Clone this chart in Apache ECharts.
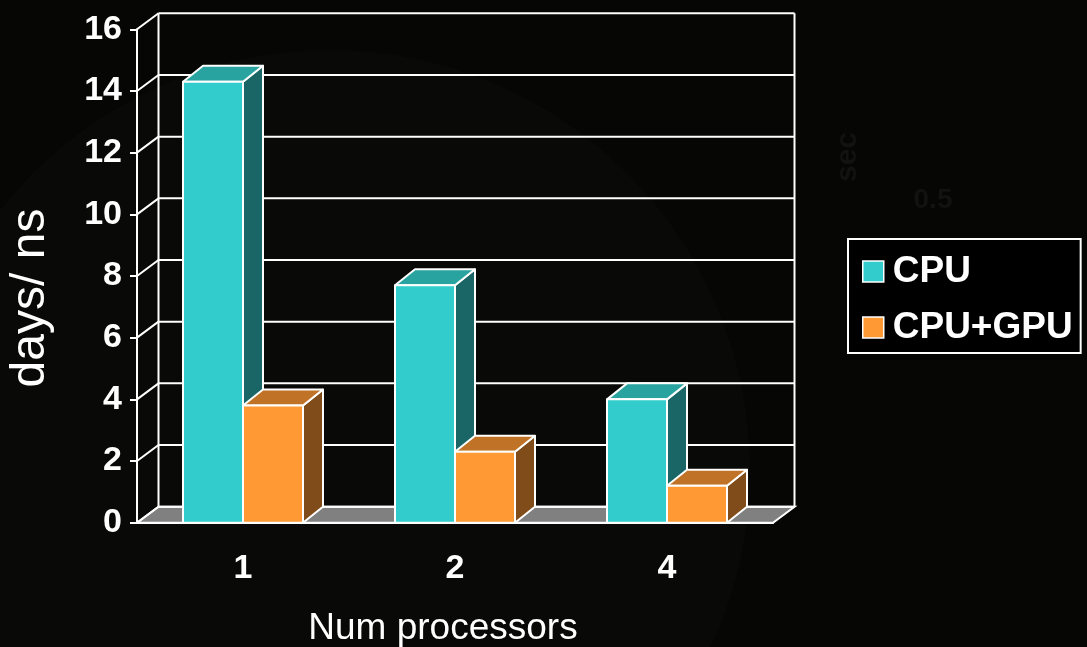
<!DOCTYPE html>
<html>
<head>
<meta charset="utf-8">
<script src="https://cdn.jsdelivr.net/npm/echarts@6/dist/echarts.min.js"></script>
<style>
  html, body { margin: 0; padding: 0; background: #060605; }
  #chart { width: 1087px; height: 647px; }
</style>
</head>
<body>
<div id="chart"></div>
<script>
var categories = ['1', '2', '4'];
var cpuValues = [14.3, 7.7, 4.0];
var gpuValues = [3.8, 2.3, 1.2];
var yTicks = [0, 2, 4, 6, 8, 10, 12, 14, 16];

var FONT = '"Liberation Sans", Arial, sans-serif';
var LINE = '#ffffff';
// depth of the back wall and of the bars, in pixels
var DX = 21.5, DY = -16;
var BAR_DX = 20, BAR_DY = -16;

function renderFrame(params, api) {
    var rect = params.coordSys;
    var v = api.value(1);
    var y = api.coord([0, v])[1];
    var x0 = rect.x, x1 = rect.x + rect.width;
    var st = { stroke: LINE, lineWidth: 2 };
    var children = [];
    if (v === 0) {
        // floor
        children.push({
            type: 'polygon',
            shape: { points: [[x0, y], [x1, y], [x1 + DX, y + DY], [x0 + DX, y + DY]] },
            style: { fill: '#808080', stroke: LINE, lineWidth: 2 }
        });
        // back wall edges
        children.push({ type: 'line', shape: { x1: x0 + DX, y1: y + DY, x2: x0 + DX, y2: rect.y + DY }, style: st });
        children.push({ type: 'line', shape: { x1: x1 + DX, y1: y + DY, x2: x1 + DX, y2: rect.y + DY }, style: st });
    }
    children.push({ type: 'line', shape: { x1: x0, y1: y, x2: x0 + DX, y2: y + DY }, style: st });
    children.push({ type: 'line', shape: { x1: x0 + DX, y1: y + DY, x2: x1 + DX, y2: y + DY }, style: st });
    return { type: 'group', children: children };
}

function barRender(slot, front, top, side) {
    return function (params, api) {
        var c = api.value(0);
        var base = api.coord([c, 0]);
        var tip = api.coord([c, api.value(1)]);
        var band = api.size([1, 0])[0];
        var bw = band * 0.283;
        var l = base[0] - bw + slot * bw;
        var r = l + bw;
        var yt = tip[1], yb = base[1];
        var st = { stroke: LINE, lineWidth: 2, lineJoin: 'round' };
        return {
            type: 'group',
            children: [
                { type: 'polygon', shape: { points: [[r, yt], [r + BAR_DX, yt + BAR_DY], [r + BAR_DX, yb + BAR_DY], [r, yb]] },
                  style: Object.assign({ fill: side }, st) },
                { type: 'polygon', shape: { points: [[l, yt], [r, yt], [r + BAR_DX, yt + BAR_DY], [l + BAR_DX, yt + BAR_DY]] },
                  style: Object.assign({ fill: top }, st) },
                { type: 'rect', shape: { x: l, y: yt, width: bw, height: yb - yt },
                  style: Object.assign({ fill: front }, st) }
            ]
        };
    };
}

var chart = echarts.init(document.getElementById('chart'));

var option = {
    backgroundColor: '#060605',
    animation: false,
    textStyle: { fontFamily: FONT },
    graphic: [
        // faint shapes of the slide background
        { type: 'circle', shape: { cx: 330, cy: 470, r: 420 }, z: -20, silent: true,
          style: { fill: '#090907' } },
        { type: 'text', x: 848, y: 157, rotation: Math.PI / 2, z: -10,
          style: { text: 'sec', fill: '#121210', font: 'bold 30px ' + FONT, align: 'center', verticalAlign: 'middle' } },
        { type: 'text', x: 933, y: 200, z: -10,
          style: { text: '0.5', fill: '#121210', font: 'bold 28px ' + FONT, align: 'center', verticalAlign: 'middle' } }
    ],
    legend: {
        orient: 'vertical',
        left: 848,
        top: 239,
        padding: [14, 8, 7, 14],
        itemGap: 19,
        itemWidth: 21,
        itemHeight: 21,
        borderColor: '#ffffff',
        borderWidth: 2,
        backgroundColor: '#000000',
        icon: 'rect',
        itemStyle: { borderColor: '#ffffff', borderWidth: 1.5 },
        textStyle: { color: '#ffffff', fontSize: 37, fontWeight: 'bold', lineHeight: 37, fontFamily: FONT, padding: [0, 0, 0, 4] },
        data: ['CPU', 'CPU+GPU']
    },
    grid: {
        left: 137, right: 314, top: 29.3, bottom: 124.3,
        containLabel: false,
        outerBoundsMode: 'none'
    },
    xAxis: {
        type: 'category',
        data: categories,
        name: 'Num processors',
        nameLocation: 'middle',
        nameGap: 88,
        nameTextStyle: { color: '#ffffff', fontSize: 37, fontFamily: FONT, padding: [0, 24, 0, 0] },
        axisLine: { lineStyle: { color: LINE, width: 2 } },
        axisTick: { length: 7, lineStyle: { color: LINE, width: 2 } },
        axisLabel: { color: '#ffffff', fontSize: 34, fontWeight: 'bold', margin: 29, fontFamily: FONT },
        splitLine: { show: false }
    },
    yAxis: {
        type: 'value',
        min: 0,
        max: 16,
        interval: 2,
        name: 'days/ ns',
        nameLocation: 'middle',
        nameGap: 82,
        nameTextStyle: { color: '#ffffff', fontSize: 48, fontFamily: FONT, padding: [0, 44, 0, 0] },
        axisLine: { show: true, lineStyle: { color: LINE, width: 2 } },
        axisTick: { show: true, length: 7, lineStyle: { color: LINE, width: 2 } },
        axisLabel: { color: '#ffffff', fontSize: 34, fontWeight: 'bold', margin: 15, fontFamily: FONT },
        splitLine: { show: false }
    },
    series: [
        {
            type: 'custom',
            name: 'frame',
            renderItem: renderFrame,
            clip: false,
            z: 1,
            encode: { x: 0, y: 1 },
            data: yTicks.map(function (v) { return [0, v]; }),
            silent: true
        },
        {
            type: 'custom',
            name: 'CPU',
            renderItem: barRender(0, '#33CCCC', '#29A3A0', '#1A6666'),
            clip: false,
            z: 3,
            encode: { x: 0, y: 1 },
            itemStyle: { color: '#33CCCC' },
            data: cpuValues.map(function (v, i) { return [i, v]; })
        },
        {
            type: 'custom',
            name: 'CPU+GPU',
            renderItem: barRender(1, '#FF9933', '#C07326', '#804D1A'),
            clip: false,
            z: 4,
            encode: { x: 0, y: 1 },
            itemStyle: { color: '#FF9933' },
            data: gpuValues.map(function (v, i) { return [i, v]; })
        }
    ]
};

chart.setOption(option);
window.addEventListener('resize', function () {
    chart.resize();
});
</script>
</body>
</html>
